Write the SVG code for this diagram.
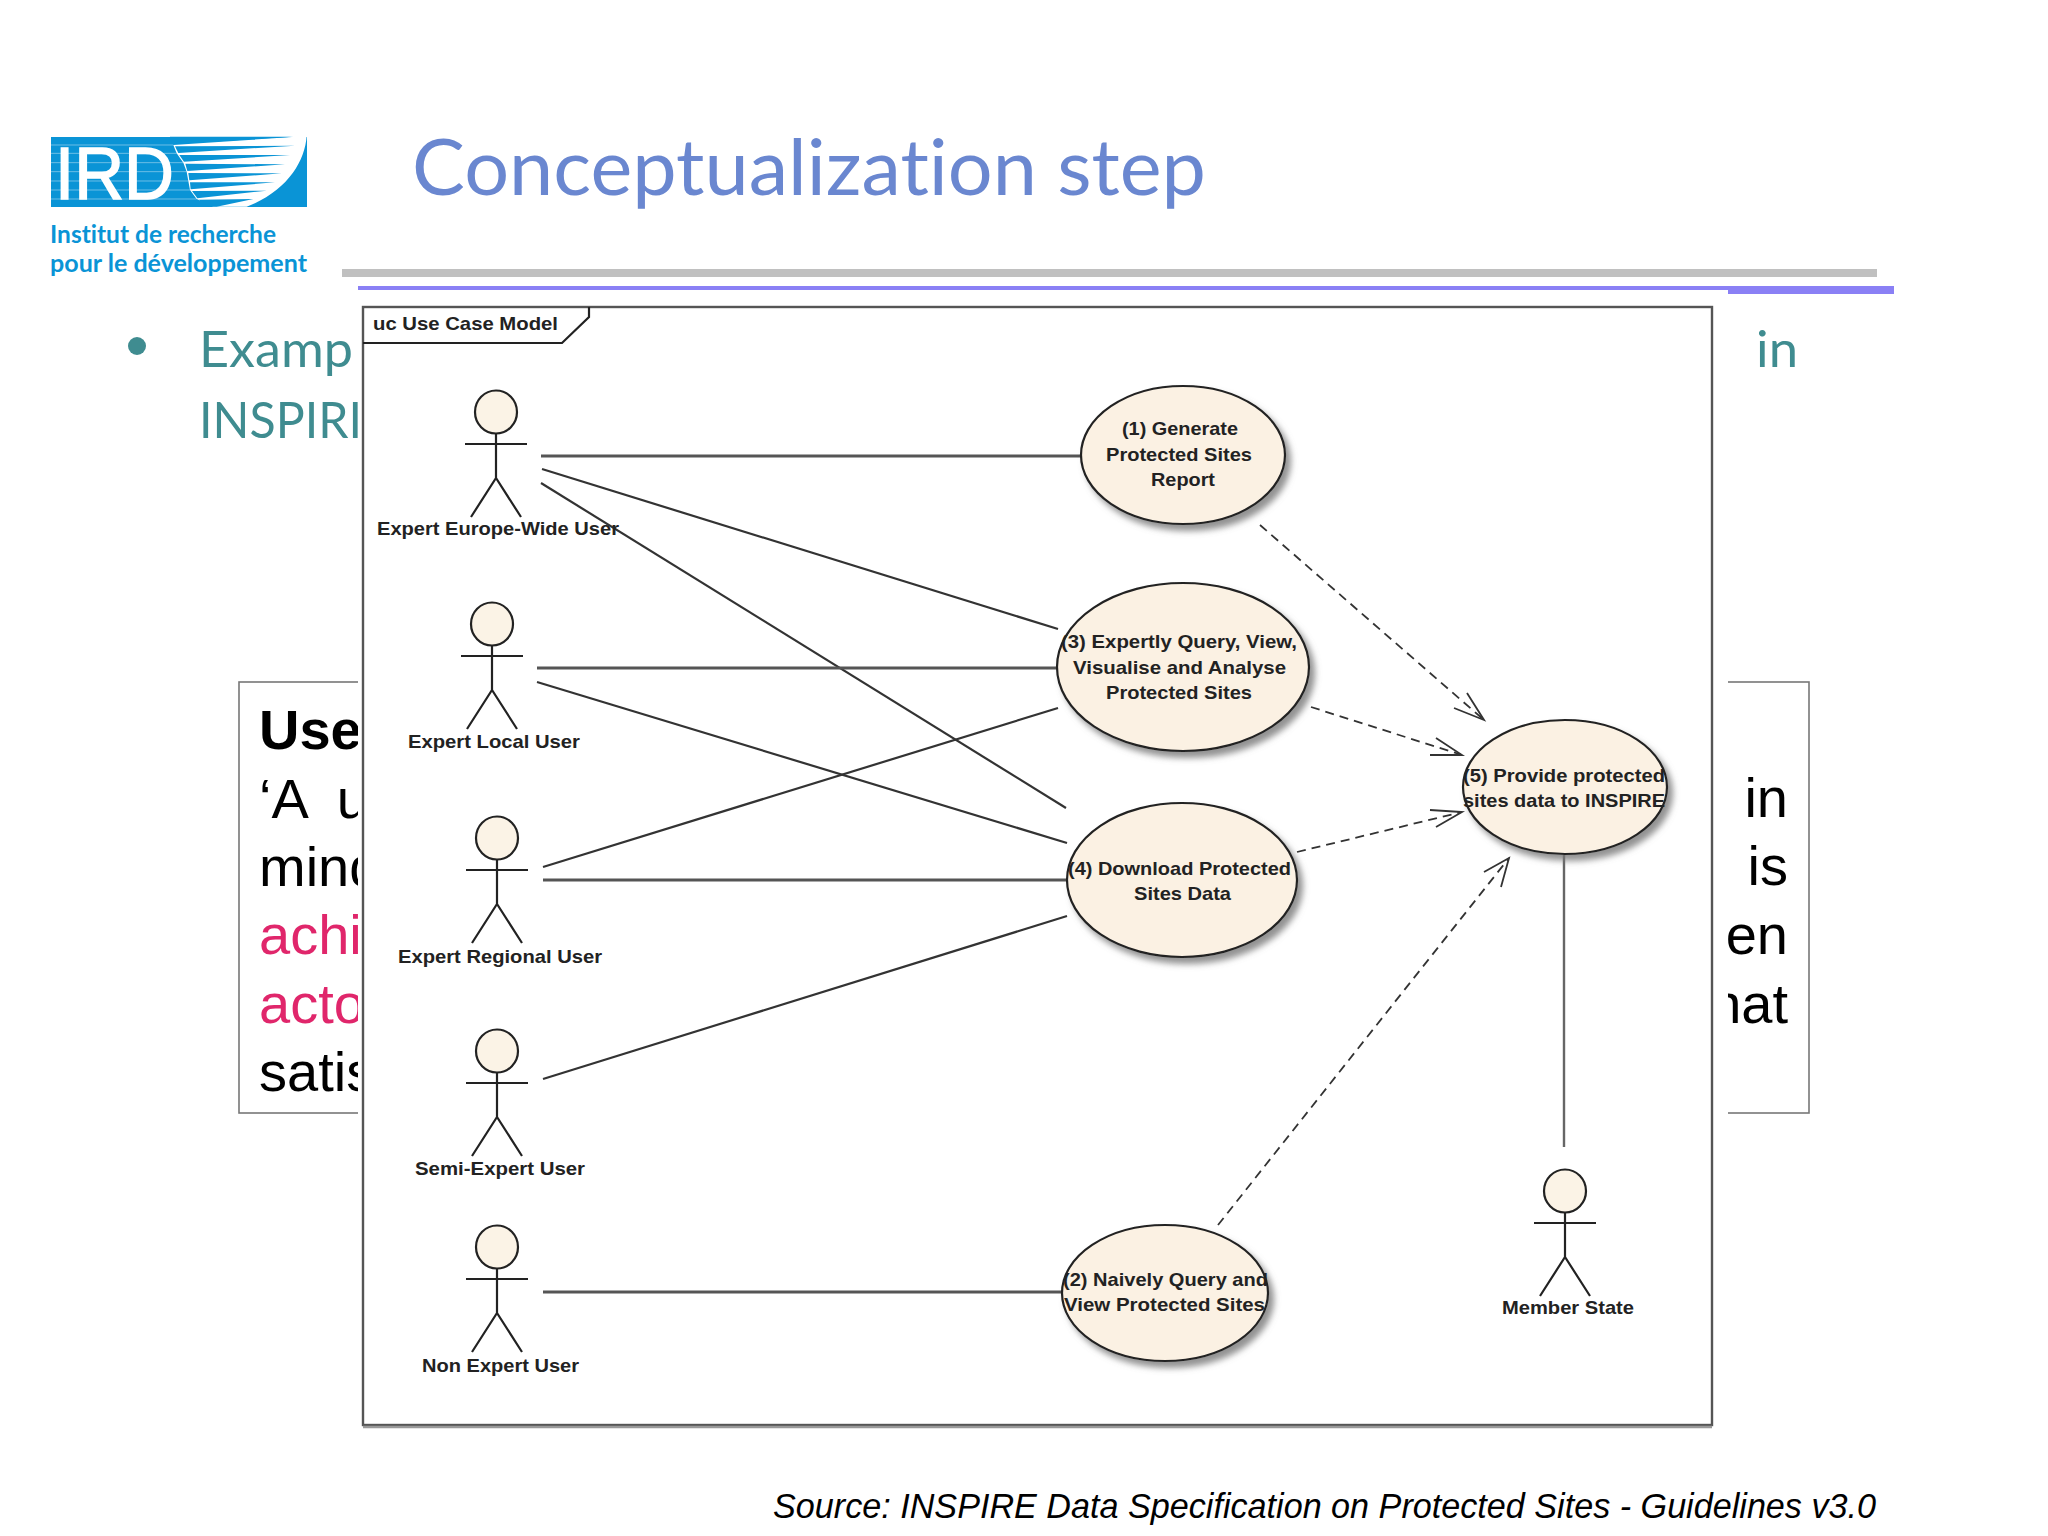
<svg xmlns="http://www.w3.org/2000/svg" width="2048" height="1536" viewBox="0 0 2048 1536">
<style>
text{font-variant-ligatures:none}
.ti{font-family:"Lato","Noto Sans",sans-serif;fill:#6A87D0;font-size:78px}
.bl{font-family:"Lato","Noto Sans",sans-serif;fill:#3F8C90;font-size:51px}
.lg{font-family:"Lato","Noto Sans",sans-serif;fill:#0A94D6;font-size:24px;font-weight:700}
.bx{font-family:"Liberation Sans",Arial,sans-serif;font-size:56px;fill:#000}
.pk{fill:#E0266B}
.uc{font-family:"Liberation Sans",Arial,sans-serif;font-size:19px;font-weight:700;fill:#222}
.ell{fill:#FBF1E3;stroke:#222;stroke-width:2.2;filter:url(#sh)}
.head{fill:#FBF3E6;stroke:#222;stroke-width:2.2}
.st{stroke:#222;stroke-width:2.2;fill:none}
.c{stroke:#333;stroke-width:2.2;fill:none}
.t{stroke:#555;stroke-width:3;fill:none}
.g{stroke:#666;stroke-width:2.4;fill:none}
.d{stroke:#333;stroke-width:1.8;fill:none;stroke-dasharray:9 6}
.h{stroke:#333;stroke-width:1.8;fill:none}
</style>
<defs>
<filter id="sh" x="-10%" y="-10%" width="125%" height="125%"><feDropShadow dx="5" dy="6" stdDeviation="3" flood-color="#777" flood-opacity="0.8"/></filter>
<g id="actor"><ellipse class="head" cx="0" cy="0" rx="21" ry="21.5"/><path class="st" d="M0 21.5V66M-31 32H31M-25 105L0 66L25 105"/></g>
</defs>
<rect width="2048" height="1536" fill="#fff"/>
<g id="logo">
<rect x="51" y="137" width="256" height="70" fill="#0A94D6"/>
<g transform="translate(40 125) scale(.3333)">
<path fill="#fff" d="M400 60L700 40L800 33C795 110 740 200 620 245L520 245L470 222L450 195L445 168L440 140L430 113L410 85Z"/>
<g fill="#0A94D6">
<path d="M390 35L760 35L390 58Z"/>
<path d="M405 64L765 62L415 84Z"/>
<path d="M418 90L750 90L432 110Z"/>
<path d="M436 116L735 118L442 138Z"/>
<path d="M445 144L725 145L448 166Z"/>
<path d="M450 172L705 172L452 193Z"/>
<path d="M456 198L680 197L472 220Z"/>
<path d="M476 224L640 222L530 245L500 245Z"/>
</g>
<path stroke="#fff" stroke-width="2" opacity=".6" fill="none" d="M33 60H400M33 85H410M33 113H430M33 140H440M33 168H445M33 195H450M33 222H470"/>
</g>
<text x="55" y="199" font-family="Liberation Sans,Arial,sans-serif" font-size="74" fill="#fff" stroke="#fff" stroke-width="1.5" textLength="119" lengthAdjust="spacingAndGlyphs">IRD</text>
<text class="lg" x="50" y="243" textLength="226" lengthAdjust="spacingAndGlyphs">Institut de recherche</text>
<text class="lg" x="50" y="272" textLength="257" lengthAdjust="spacingAndGlyphs">pour le développement</text>
</g>
<text id="title" class="ti" x="412" y="195" textLength="794" lengthAdjust="spacingAndGlyphs">Conceptualization step</text>
<g id="rules">
<rect x="342" y="269" width="1535" height="8" fill="#C0C0C0"/>
<rect x="358" y="286" width="1370" height="4" fill="#8A80F5"/>
<rect x="1728" y="286" width="166" height="8" fill="#8A80F5"/>
</g>
<g id="bullet">
<ellipse cx="137" cy="346" rx="9" ry="9" fill="#3F8C90"/>
<text class="bl" x="199" y="367" textLength="154" lengthAdjust="spacingAndGlyphs">Examp</text>
<text class="bl" x="199" y="438" textLength="163" lengthAdjust="spacingAndGlyphs">INSPIRI</text>
<text class="bl" x="1756" y="367" textLength="42" lengthAdjust="spacingAndGlyphs">in</text>
</g>
<g id="defbox">
<rect x="239" y="682" width="1570" height="431" fill="#fff" stroke="#777" stroke-width="1.6"/>
<text class="bx" x="259" y="749" font-weight="700">Use</text>
<text class="bx" x="259" y="818" xml:space="preserve">‘A  u</text>
<text class="bx" x="259" y="886">mind</text>
<text class="bx pk" x="259" y="954">achi</text>
<text class="bx pk" x="259" y="1023">acto</text>
<text class="bx" x="259" y="1091">satis</text>
<text class="bx" x="1788" y="817" text-anchor="end">in</text>
<text class="bx" x="1788" y="885" text-anchor="end">is</text>
<text class="bx" x="1788" y="954" text-anchor="end">en</text>
<text class="bx" x="1788" y="1023" text-anchor="end">hat</text>
</g>
<g id="frame">
<rect x="358" y="296" width="1370" height="1140" fill="#fff"/>
<rect x="363" y="307" width="1349" height="1118" fill="#fff" stroke="#555" stroke-width="2.4"/>
<path stroke="#999" stroke-width="2.5" fill="none" d="M363 1427H1712"/>
<path class="st" d="M363 343H562L589 317V307"/>
<text class="uc" x="373" y="330" textLength="185" lengthAdjust="spacingAndGlyphs">uc Use Case Model</text>
</g>
<g id="connectors">
<path class="t" d="M541 456H1082"/>
<path class="c" d="M542 469L1058 629"/>
<path class="c" d="M541 483L1066 808"/>
<path class="t" d="M537 668H1058"/>
<path class="c" d="M537 682L1067 843"/>
<path class="c" d="M543 867L1058 708"/>
<path class="t" d="M543 880H1067"/>
<path class="c" d="M543 1079L1067 916"/>
<path class="t" d="M543 1292H1062"/>
<path class="g" d="M1564 854V1147"/>
<path class="d" d="M1260 525L1484 720"/>
<path class="h" d="M1454 708L1484 720L1467 693"/>
<path class="d" d="M1311 707L1462 755"/>
<path class="h" d="M1430 755L1462 755L1436 738"/>
<path class="d" d="M1297 852L1462 812"/>
<path class="h" d="M1430 810L1462 812L1436 827"/>
<path class="d" d="M1218 1225L1509 858"/>
<path class="h" d="M1484 872L1509 858L1501 887"/>
</g>
<g id="uc1"><ellipse class="ell" cx="1183" cy="455" rx="102" ry="69"/>
<text class="uc" x="1122" y="435" textLength="116" lengthAdjust="spacingAndGlyphs">(1) Generate</text>
<text class="uc" x="1106" y="461" textLength="146" lengthAdjust="spacingAndGlyphs">Protected Sites</text>
<text class="uc" x="1151" y="486" textLength="64" lengthAdjust="spacingAndGlyphs">Report</text></g>
<g id="uc3"><ellipse class="ell" cx="1183" cy="667" rx="126" ry="84"/>
<text class="uc" x="1061" y="648" textLength="236" lengthAdjust="spacingAndGlyphs">(3) Expertly Query, View,</text>
<text class="uc" x="1073" y="674" textLength="213" lengthAdjust="spacingAndGlyphs">Visualise and Analyse</text>
<text class="uc" x="1106" y="699" textLength="146" lengthAdjust="spacingAndGlyphs">Protected Sites</text></g>
<g id="uc4"><ellipse class="ell" cx="1182" cy="880" rx="115" ry="77"/>
<text class="uc" x="1068" y="875" textLength="223" lengthAdjust="spacingAndGlyphs">(4) Download Protected</text>
<text class="uc" x="1134" y="900" textLength="97" lengthAdjust="spacingAndGlyphs">Sites Data</text></g>
<g id="uc5"><ellipse class="ell" cx="1565" cy="787" rx="102" ry="67"/>
<text class="uc" x="1463" y="782" textLength="202" lengthAdjust="spacingAndGlyphs">(5) Provide protected</text>
<text class="uc" x="1463" y="807" textLength="202" lengthAdjust="spacingAndGlyphs">sites data to INSPIRE</text></g>
<g id="uc2"><ellipse class="ell" cx="1165" cy="1293" rx="103" ry="68"/>
<text class="uc" x="1063" y="1286" textLength="205" lengthAdjust="spacingAndGlyphs">(2) Naively Query and</text>
<text class="uc" x="1064" y="1311" textLength="201" lengthAdjust="spacingAndGlyphs">View Protected Sites</text></g>
<g id="a1"><use href="#actor" x="496" y="412"/><text class="uc" x="377" y="535" textLength="242" lengthAdjust="spacingAndGlyphs">Expert Europe-Wide User</text></g>
<g id="a2"><use href="#actor" x="492" y="624"/><text class="uc" x="408" y="748" textLength="172" lengthAdjust="spacingAndGlyphs">Expert Local User</text></g>
<g id="a3"><use href="#actor" x="497" y="838"/><text class="uc" x="398" y="963" textLength="204" lengthAdjust="spacingAndGlyphs">Expert Regional User</text></g>
<g id="a4"><use href="#actor" x="497" y="1051"/><text class="uc" x="415" y="1175" textLength="170" lengthAdjust="spacingAndGlyphs">Semi-Expert User</text></g>
<g id="a5"><use href="#actor" x="497" y="1247"/><text class="uc" x="422" y="1372" textLength="157" lengthAdjust="spacingAndGlyphs">Non Expert User</text></g>
<g id="a6"><use href="#actor" x="1565" y="1191"/><text class="uc" x="1502" y="1314" textLength="132" lengthAdjust="spacingAndGlyphs">Member State</text></g>
<text id="source" x="773" y="1518" font-family="Liberation Sans,Arial,sans-serif" font-style="italic" font-size="35" fill="#000" textLength="1103" lengthAdjust="spacingAndGlyphs">Source: INSPIRE Data Specification on Protected Sites - Guidelines v3.0</text>
</svg>
